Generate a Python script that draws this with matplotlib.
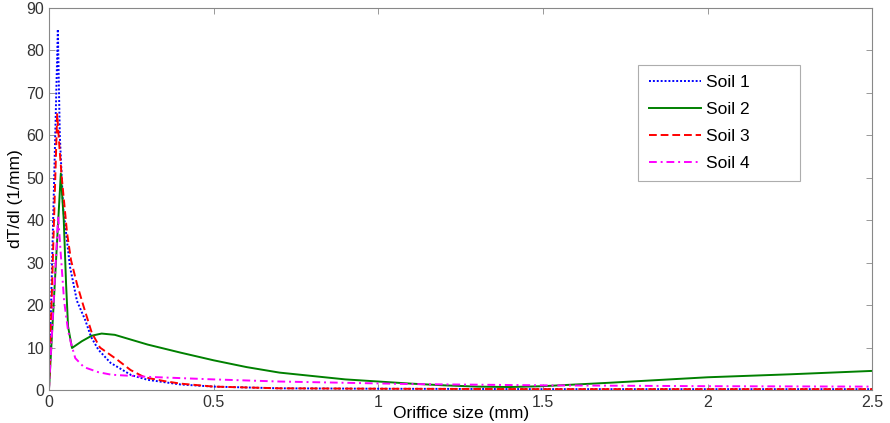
import matplotlib
matplotlib.use("Agg")
import matplotlib.pyplot as plt

plt.rcParams['font.family'] = ['Liberation Sans', 'DejaVu Sans']

# values
soil1_x = [0, 0.027, 0.033, 0.043, 0.064, 0.085, 0.11, 0.128, 0.15, 0.187, 0.25, 0.3, 0.4, 0.5, 0.7, 1.0, 1.5, 2.0, 2.5]
soil1_y = [0, 85, 60, 43, 29, 21, 16.5, 12.5, 9.5, 6.4, 3.5, 2.4, 1.3, 0.8, 0.4, 0.3, 0.2, 0.2, 0.2]

soil2_x = [0, 0.036, 0.045, 0.052, 0.058, 0.07, 0.1, 0.13, 0.16, 0.2, 0.3, 0.4, 0.5, 0.6, 0.7, 0.8, 0.9,
           1.0, 1.1, 1.2, 1.3, 1.4, 1.5, 1.7, 2.0, 2.25, 2.5]
soil2_y = [0, 51, 40, 25, 15, 9.9, 11.5, 12.8, 13.3, 13, 10.7, 8.8, 7.0, 5.4, 4.1, 3.3, 2.5,
           2.0, 1.5, 1.1, 0.8, 0.7, 0.9, 1.7, 3.0, 3.7, 4.5]

soil3_x = [0, 0.025, 0.032, 0.039, 0.055, 0.067, 0.085, 0.104, 0.13, 0.155, 0.208, 0.248, 0.29, 0.35, 0.4, 0.5, 0.7, 1.0, 1.5, 2.0, 2.5]
soil3_y = [0, 65, 57, 50, 37, 30.6, 25, 20, 13.5, 10, 7.1, 4.7, 3, 2.1, 1.5, 0.8, 0.4, 0.3, 0.2, 0.2, 0.2]

soil4_x = [0, 0.028, 0.035, 0.046, 0.058, 0.067, 0.08, 0.106, 0.15, 0.19, 0.3, 0.4, 0.5, 0.7, 0.9, 1.1, 1.5, 2.0, 2.5]
soil4_y = [0, 41, 33, 21, 14, 11, 7.5, 5.4, 4.2, 3.6, 3.1, 2.8, 2.5, 2.0, 1.7, 1.4, 1.1, 0.9, 0.8]

labels = ['Soil 1', 'Soil 2', 'Soil 3', 'Soil 4']

fig = plt.figure(figsize=(8.9, 4.23), dpi=100)
ax = fig.add_axes([0.055, 0.078, 0.925, 0.903])

ax.plot(soil1_x, soil1_y, color='#0000ff', linestyle=(0, (1, 1)), lw=1.4, label=labels[0])
ax.plot(soil2_x, soil2_y, color='#008000', linestyle='-', lw=1.4, label=labels[1])
ax.plot(soil3_x, soil3_y, color='#ff0000', linestyle=(0, (4, 2)), lw=1.4, label=labels[2])
ax.plot(soil4_x, soil4_y, color='#ff00ff', linestyle=(0, (4, 2, 1, 2)), lw=1.4, label=labels[3])

ax.set_xlim(0, 2.5)
ax.set_ylim(0, 90)
ax.set_xticks([0, 0.5, 1, 1.5, 2, 2.5])
ax.set_xticklabels(['0', '0.5', '1', '1.5', '2', '2.5'])
ax.set_yticks(range(0, 91, 10))

for s in ax.spines.values():
    s.set_color('#888888')
    s.set_linewidth(0.8)
ax.tick_params(direction='in', top=True, right=True, length=4, width=0.6,
               color='#888888', labelcolor='#333333', labelsize=11.5)

ax.set_xlabel('Oriffice size (mm)', fontsize=12.5, labelpad=-3)
ax.set_ylabel('dT/dl (1/mm)', fontsize=12.5, labelpad=2)

# wide MATLAB-style legend box, text left aligned
leg = ax.legend(loc='upper left', bbox_to_anchor=(0.716, 0.0, 0.196, 0.852), mode='expand',
                fancybox=False, edgecolor='#999999', fontsize=12.5, handlelength=3.0,
                handletextpad=0.3, labelspacing=0.68, borderpad=0.6, borderaxespad=0)
leg.get_frame().set_linewidth(0.8)

fig.savefig('out.png', dpi=100)
